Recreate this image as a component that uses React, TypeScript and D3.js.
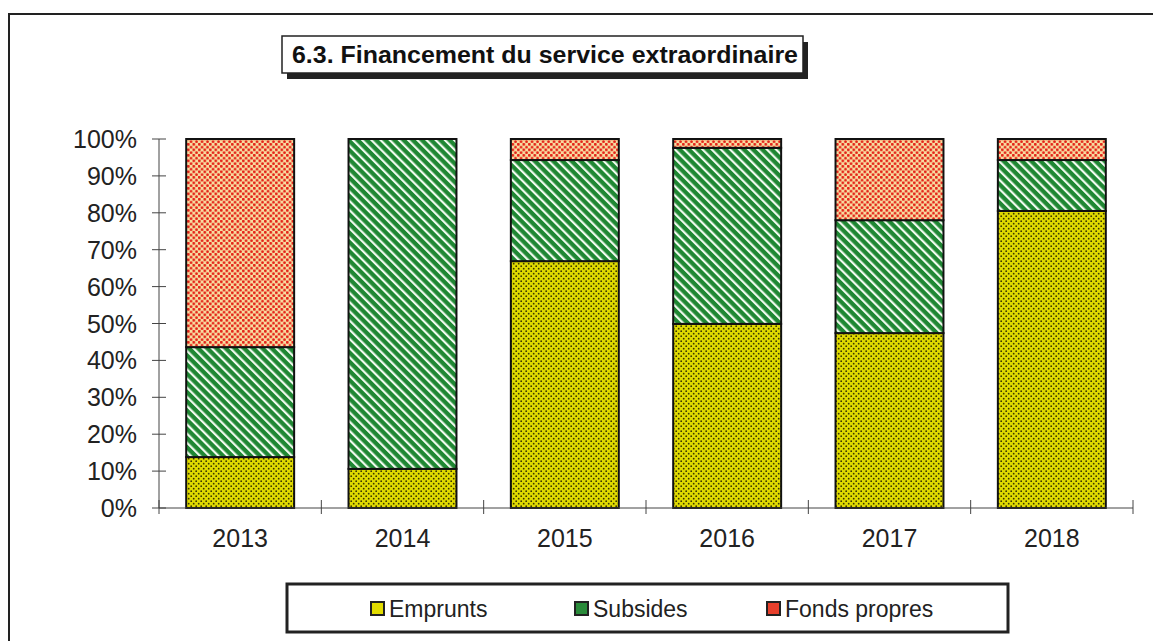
import React from "react";
import * as d3 from "d3";

const years = ["2013", "2014", "2015", "2016", "2017", "2018"];
const emprunts = [13.8, 10.6, 66.9, 49.9, 47.4, 80.5];
const subsides = [29.8, 89.4, 27.4, 47.7, 30.6, 13.8];
const fondsPropres = [56.4, 0, 5.7, 2.4, 22.0, 5.7];
const seriesNames = ["Emprunts", "Subsides", "Fonds propres"];
const yTicks = [0, 10, 20, 30, 40, 50, 60, 70, 80, 90, 100];

const W = 1153;
const H = 641;
const FONT = "Arial, 'Liberation Sans', sans-serif";

export default function App() {
  const rows = years.map((y, i) => ({
    year: y,
    Emprunts: emprunts[i],
    Subsides: subsides[i],
    "Fonds propres": fondsPropres[i],
  }));
  const stacked = d3.stack<any>().keys(seriesNames)(rows);

  const x = d3.scaleBand().domain(years).range([159, 1133]).paddingInner(0.335).paddingOuter(0.1675);
  const y = d3.scaleLinear().domain([0, 100]).range([508, 139]);
  const step = x.step();
  const fills = ["url(#pEmp)", "url(#pSub)", "url(#pFonds)"];
  const legendSwatch = ["#e2dc00", "#2a8b3a", "#e8402c"];
  const legendX = [371, 575, 767];

  return (
    <svg width={W} height={H} style={{ position: "absolute", left: 0, top: 0, background: "#fff" }}>
      <defs>
        <pattern id="pEmp" patternUnits="userSpaceOnUse" width="5" height="5">
          <rect width="5" height="5" fill="#e0da00" />
          <circle cx="1.2" cy="1.2" r="0.9" fill="#3a3600" />
          <circle cx="3.7" cy="3.7" r="0.9" fill="#3a3600" />
        </pattern>
        <pattern id="pSub" patternUnits="userSpaceOnUse" width="6.5" height="6.5" patternTransform="rotate(-45)">
          <rect width="6.5" height="6.5" fill="#1f8733" />
          <rect width="2.2" height="6.5" fill="#f2fbf0" />
        </pattern>
        <pattern id="pFonds" patternUnits="userSpaceOnUse" width="5.5" height="5.5">
          <rect width="5.5" height="5.5" fill="#f7dca0" />
          <circle cx="1.3" cy="1.3" r="1.4" fill="#e41f16" />
          <circle cx="4.05" cy="4.05" r="1.4" fill="#e41f16" />
        </pattern>
      </defs>

      {/* outer frame */}
      <rect x={9} y={14} width={1170} height={660} fill="none" stroke="#222" strokeWidth={2} />

      {/* title */}
      <rect x={287} y={42} width={521} height={37} fill="#222" />
      <rect x={282} y={36} width={521} height={37} fill="#fff" stroke="#222" strokeWidth={1.5} />
      <text x={292} y={63} fontFamily={FONT} fontWeight="bold" fontSize={23} fill="#111" textLength={506} lengthAdjust="spacingAndGlyphs">
        6.3. Financement du service extraordinaire
      </text>

      {/* bars */}
      {stacked.map((s, si) => (
        <g key={s.key}>
          {s.map((d, i) => {
            const h = y(d[0]) - y(d[1]);
            if (h <= 0.01) return null;
            return (
              <rect
                key={i}
                x={x(years[i])}
                y={y(d[1])}
                width={x.bandwidth()}
                height={h}
                fill={fills[si]}
                stroke="#111"
                strokeWidth={2}
              />
            );
          })}
        </g>
      ))}

      {/* y axis */}
      <line x1={159} x2={159} y1={y(100)} y2={y(0)} stroke="#444" strokeWidth={1} />
      {yTicks.map((t) => (
        <g key={t}>
          <line x1={152} x2={166} y1={y(t)} y2={y(t)} stroke="#444" strokeWidth={1} />
          <text x={137} y={y(t)} textAnchor="end" dominantBaseline="central" fontFamily={FONT} fontSize={25} fill="#222">
            {t}%
          </text>
        </g>
      ))}

      {/* x axis */}
      <line x1={159} x2={159 + step * years.length} y1={y(0)} y2={y(0)} stroke="#444" strokeWidth={1} />
      {d3.range(years.length + 1).map((i) => (
        <line key={i} x1={159 + step * i} x2={159 + step * i} y1={500} y2={514} stroke="#444" strokeWidth={1} />
      ))}
      {years.map((yr) => (
        <text key={yr} x={(x(yr) as number) + x.bandwidth() / 2} y={538} textAnchor="middle" dominantBaseline="central" fontFamily={FONT} fontSize={25} fill="#222">
          {yr}
        </text>
      ))}

      {/* legend */}
      <rect x={287} y={584} width={721} height={48} fill="#fff" stroke="#222" strokeWidth={3} />
      {seriesNames.map((n, i) => (
        <g key={n}>
          <rect x={legendX[i]} y={602} width={13} height={13} fill={legendSwatch[i]} stroke="#222" strokeWidth={2} />
          <text x={legendX[i] + 18} y={609} dominantBaseline="central" fontFamily={FONT} fontSize={23} fill="#222">
            {n}
          </text>
        </g>
      ))}
    </svg>
  );
}
